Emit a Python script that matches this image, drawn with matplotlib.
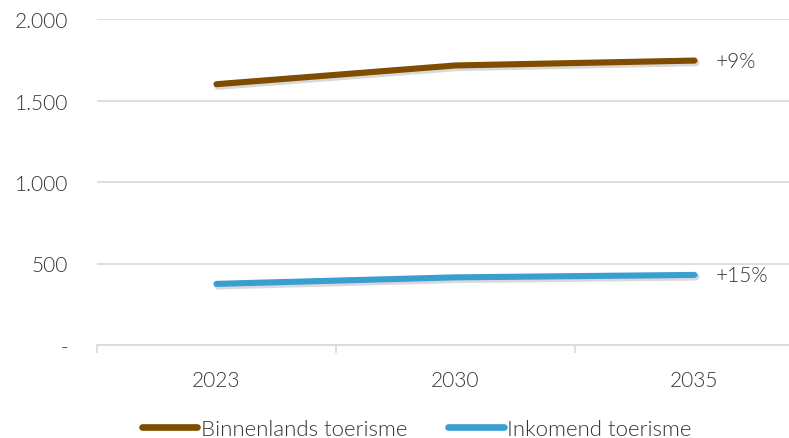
import matplotlib
matplotlib.use("Agg")
import matplotlib.pyplot as plt
import matplotlib.patheffects as pe
from matplotlib.ticker import FixedLocator, FuncFormatter

years = ["2023", "2030", "2035"]
binnenlands = [1600, 1715, 1745]
inkomend = [375, 415, 430]
labels_end = ["+9%", "+15%"]
series_names = ["Binnenlands toerisme", "Inkomend toerisme"]
yticks = [0, 500, 1000, 1500, 2000]

plt.rcParams['font.family'] = ['Lato', 'DejaVu Sans']
plt.rcParams['font.weight'] = 300
txt = "#333333"
brown = "#7F4C00"
blue = "#3A9ED0"
fs = 15

fig = plt.figure(figsize=(7.89, 4.39), dpi=100)
W, H = 789, 439
left, right, top, bottom = 97, 814, 20, 346
ax = fig.add_axes([left / W, (H - bottom) / H, (right - left) / W, (bottom - top) / H])

x = list(range(len(years)))
shadow = [pe.SimpleLineShadow(offset=(1.0, -1.5), shadow_color='k', alpha=0.15, linewidth=5.2), pe.Normal()]
l1, = ax.plot(x, binnenlands, color=brown, lw=4.4, solid_capstyle='round',
              path_effects=shadow, label=series_names[0], zorder=3)
l2, = ax.plot(x, inkomend, color=blue, lw=4.4, solid_capstyle='round',
              path_effects=shadow, label=series_names[1], zorder=3)

ax.text(x[-1] + 0.09, binnenlands[-1], labels_end[0], fontsize=fs, color=txt, va='center', ha='left')
ax.text(x[-1] + 0.09, inkomend[-1], labels_end[1], fontsize=fs, color=txt, va='center', ha='left')

ax.set_xlim(-0.5, len(years) - 0.5)
ax.set_ylim(0, 2000)
ax.set_yticks(yticks)
ax.yaxis.set_major_formatter(FuncFormatter(lambda v, p: "-" if v == 0 else f"{int(v):,}".replace(",", ".")))
ax.grid(axis='y', color='#d9d9d9', lw=1.2)
ax.set_axisbelow(True)
for s in ['top', 'right', 'left']:
    ax.spines[s].set_visible(False)
ax.spines['bottom'].set_color('#d9d9d9')
ax.spines['bottom'].set_linewidth(1.2)
ax.tick_params(axis='y', length=0, labelsize=fs, labelcolor=txt, pad=21)

ax.set_xticks(x)
ax.set_xticklabels(years)
ax.xaxis.set_minor_locator(FixedLocator([-0.5, 0.5, 1.5, 2.5]))
ax.tick_params(axis='x', which='major', length=0, labelsize=fs, labelcolor=txt, pad=18)
ax.tick_params(axis='x', which='minor', length=6, color='#d9d9d9', width=1.2)

leg = fig.legend(handles=[l1, l2], loc='center', bbox_to_anchor=(0.528, (H - 430) / H),
                 ncol=2, frameon=False, fontsize=16, handlelength=2.5, handletextpad=0.15,
                 columnspacing=1.85, labelcolor=txt)
for h in leg.legend_handles:
    h.set_linewidth(4.8)
    h.set_path_effects([])

fig.savefig("out.png", dpi=100)
